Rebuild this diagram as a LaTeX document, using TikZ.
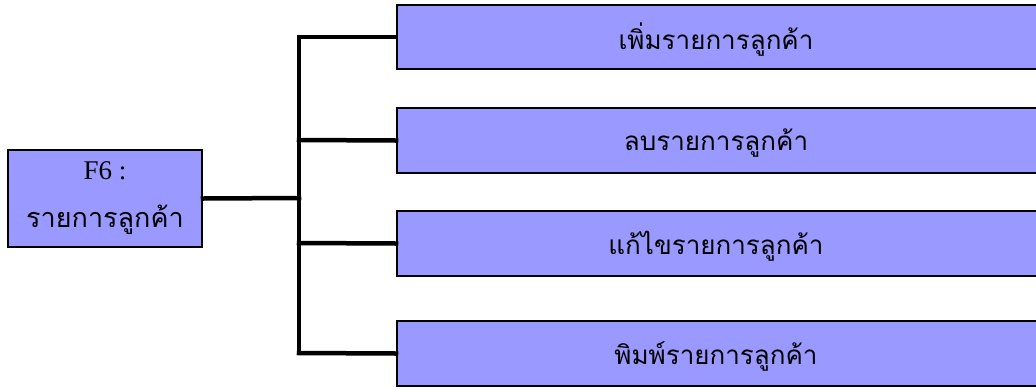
\documentclass[tikz,border=0pt]{standalone}
\usepackage{fontspec}
\setmainfont{Liberation Serif}
\newfontfamily\thaifont[Script=Thai]{Loma}
\definecolor{boxfill}{HTML}{9999FF}
\begin{document}
\begin{tikzpicture}[x=1pt,y=-1pt,
  fbox/.style={draw=black,line width=2pt,fill=boxfill,inner sep=0pt},
  conn/.style={line width=4.5pt,line cap=rect}]
\useasboundingbox (0,0) rectangle (1036,389);
\node[fbox,minimum width=194pt,minimum height=97pt,align=center,font=\fontsize{27}{40}\selectfont] (root) at (105,198.5) {F6 :\\[8pt]{\thaifont รายการลูกค้า}};
\node[fbox,minimum width=650pt,minimum height=64pt,anchor=west] (a) at (396,37) {};
\node[fbox,minimum width=650pt,minimum height=65pt,anchor=west] (b) at (396,140.5) {};
\node[fbox,minimum width=650pt,minimum height=65pt,anchor=west] (c) at (396,243.5) {};
\node[fbox,minimum width=650pt,minimum height=65pt,anchor=west] (d) at (396,353.5) {};
\begin{scope}[every node/.style={font=\thaifont\fontsize{26}{30}\selectfont}]
\node (ta) at (716,40) {เพิ่มรายการลูกค้า};
\node (tb) at (716,143) {ลบรายการลูกค้า};
\node (tc) at (716,246) {แก้ไขรายการลูกค้า};
\node (td) at (716,356) {พิมพ์รายการลูกค้า};
\end{scope}
\coordinate (j) at (299,198);
\coordinate (t1) at (299,37);
\coordinate (t4) at (299,353);
\draw[conn] (root.east) -- (j);
\draw[conn] (t1) -- (t4);
\draw[conn] (t1) -- (a.west);
\draw[conn] (299,140) -- (b.west);
\draw[conn] (299,243) -- (c.west);
\draw[conn] (t4) -- (d.west);
\end{tikzpicture}
\end{document}
